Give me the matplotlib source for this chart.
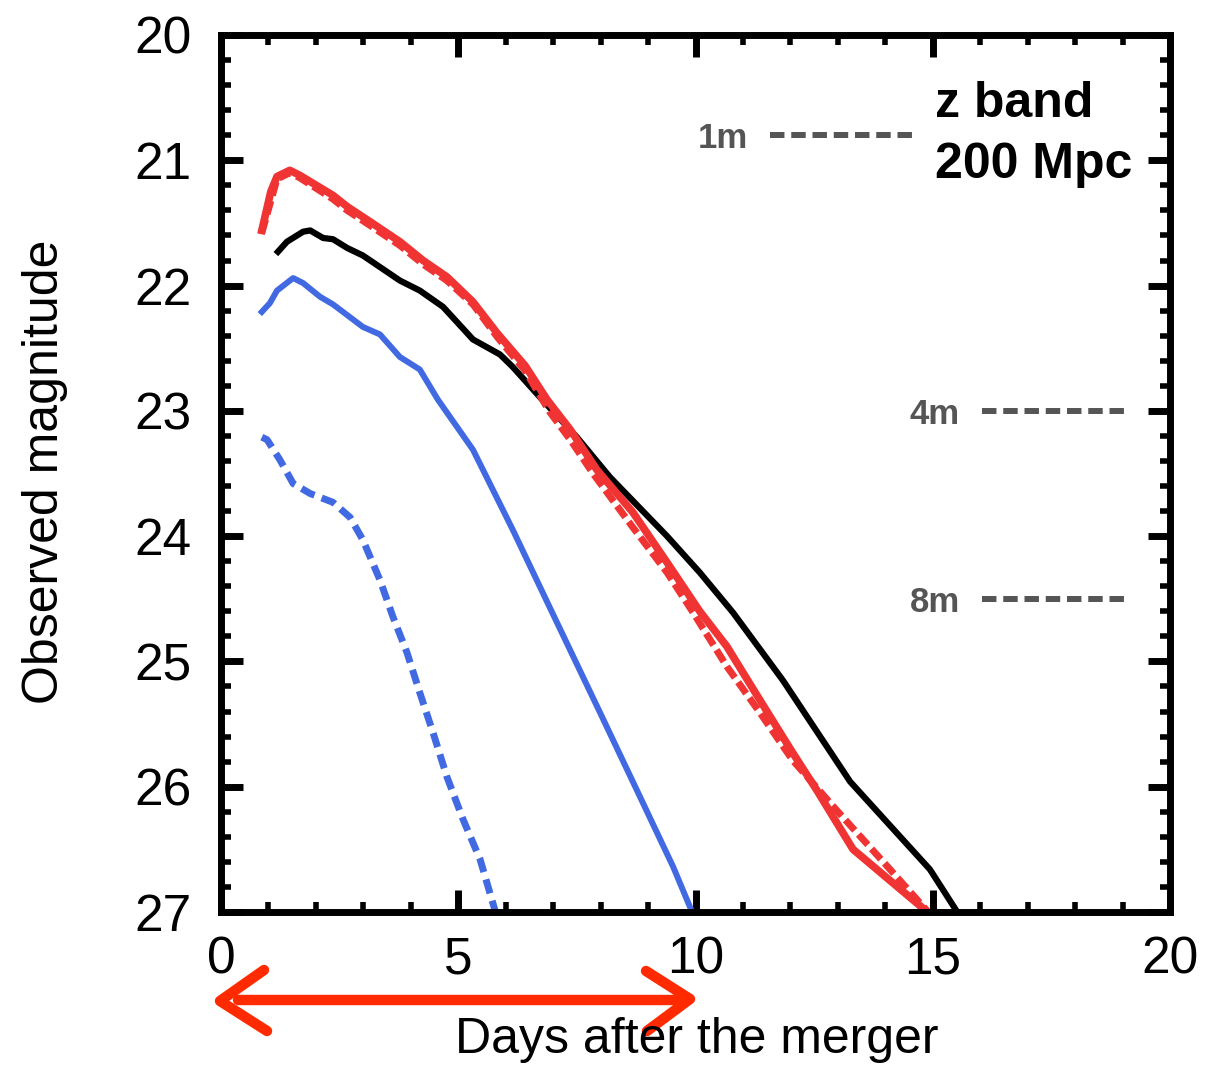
import matplotlib
matplotlib.use("Agg")
import matplotlib.pyplot as plt
from matplotlib.ticker import MultipleLocator
from matplotlib.lines import Line2D

plt.rcParams["font.family"] = ["Liberation Sans", "DejaVu Sans"]
plt.rcParams["lines.scale_dashes"] = False

# ---- light curves (days after merger, observed z-band magnitude) ----
black_days = [1.20, 1.39, 1.73, 1.88, 2.15, 2.36, 2.66, 2.99, 3.77, 4.19, 4.68, 5.31,
              5.88, 6.15, 6.72, 7.50, 8.20, 9.40, 10.09, 10.79, 11.84, 13.26, 14.94, 15.55]
black_mag = [21.73, 21.65, 21.57, 21.56, 21.62, 21.63, 21.70, 21.76, 21.96, 22.04, 22.17, 22.43,
             22.55, 22.65, 22.89, 23.21, 23.53, 24.00, 24.29, 24.61, 25.15, 25.96, 26.66, 27.02]

red_days = [0.86, 1.05, 1.18, 1.45, 1.66, 2.36, 2.66, 3.18, 3.77, 4.26, 4.76, 5.31,
            5.82, 6.41, 6.87, 7.36, 7.92, 8.68, 9.40, 10.09, 10.66, 11.36, 12.05, 12.56,
            13.32, 14.95]
red_mag = [21.56, 21.25, 21.13, 21.08, 21.12, 21.28, 21.37, 21.50, 21.65, 21.80, 21.93, 22.13,
           22.38, 22.64, 22.91, 23.15, 23.47, 23.81, 24.21, 24.60, 24.88, 25.31, 25.73, 26.03,
           26.50, 27.02]

red_dash_days = [0.86, 1.18, 1.45, 1.66, 2.36, 2.66, 3.18, 3.77, 4.26, 4.76, 5.31, 5.82,
                 6.41, 6.93, 7.36, 7.84, 8.68, 9.40, 9.95, 10.66, 11.36, 12.05, 12.98,
                 14.10, 14.95]
red_dash_mag = [21.58, 21.15, 21.10, 21.14, 21.31, 21.40, 21.53, 21.68, 21.83, 21.96, 22.15, 22.41,
                22.68, 23.01, 23.23, 23.50, 23.93, 24.29, 24.61, 25.04, 25.41, 25.79, 26.19,
                26.66, 27.02]

blue_days = [0.86, 1.03, 1.18, 1.52, 1.73, 2.09, 2.36, 2.99, 3.35, 3.77, 4.19, 4.57,
             5.31, 6.15, 6.93, 7.99, 8.83, 9.53, 9.95]
blue_mag = [22.21, 22.14, 22.04, 21.94, 21.98, 22.09, 22.15, 22.33, 22.39, 22.57, 22.67, 22.91,
            23.31, 23.95, 24.57, 25.41, 26.08, 26.64, 27.02]

blue_dash_days = [0.86, 0.97, 1.24, 1.52, 1.88, 2.36, 2.72, 2.99, 3.35, 3.62, 3.92, 4.19,
                  4.47, 4.76, 5.10, 5.46, 5.80]
blue_dash_mag = [23.21, 23.23, 23.39, 23.58, 23.66, 23.73, 23.85, 24.03, 24.35, 24.64, 24.93, 25.25,
                 25.57, 25.92, 26.26, 26.58, 27.02]

# ---- telescope limiting magnitudes ----
telescopes = ["1m", "4m", "8m"]
limit_mag = [20.8, 23.0, 24.5]
limit_start = [11.57, 16.04, 16.04]
limit_end = [14.58, 19.03, 19.03]

xticks = [0, 5, 10, 15, 20]
yticks = [20, 21, 22, 23, 24, 25, 26, 27]

RED = "#f03434"
BLUE = "#4169e1"
GRAY = "#555555"

W, H = 1217, 1065
fig = plt.figure(figsize=(W / 100, H / 100), dpi=100)
ax = fig.add_axes([221 / W, 153 / H, 949 / W, 877 / H])

ax.plot(blue_dash_days, blue_dash_mag, color=BLUE, lw=5.0, dashes=(10.5, 5.5))
ax.plot(blue_days, blue_mag, color=BLUE, lw=4.3)
ax.plot(black_days, black_mag, color="black", lw=4.5)
ax.plot(red_days, red_mag, color=RED, lw=5.5)
ax.plot(red_dash_days, red_dash_mag, color=RED, lw=5.0, dashes=(10.0, 4.0))

for name, m, x0, x1 in zip(telescopes, limit_mag, limit_start, limit_end):
    ax.plot([x0, x1], [m, m], color=GRAY, lw=4.3, dashes=(10.4, 4.9))
    ax.text(x0 - 0.47, m, name, color=GRAY, fontsize=25, fontweight="bold",
            ha="right", va="center_baseline")

ax.text(0.752, 0.9065, "z band", transform=ax.transAxes, fontsize=36,
        fontweight="bold", ha="left", va="baseline")
ax.text(0.752, 0.8365, "200 Mpc", transform=ax.transAxes, fontsize=36,
        fontweight="bold", ha="left", va="baseline")

ax.set_xlim(0, 20)
ax.set_ylim(27, 20)
ax.set_xticks(xticks)
ax.set_yticks(yticks)
ax.xaxis.set_minor_locator(MultipleLocator(1))
ax.yaxis.set_minor_locator(MultipleLocator(0.2))
ax.tick_params(which="both", direction="in", top=True, right=True, labelsize=37)
ax.tick_params(which="major", length=15.5, width=5)
ax.tick_params(which="minor", length=7.5, width=4)
ax.tick_params(axis="x", which="major", pad=17)
ax.tick_params(axis="y", which="major", pad=21)
for sp in ax.spines.values():
    sp.set_linewidth(5)

fig.text(45 / W, 1 - 472 / H, "Observed magnitude", rotation=90, fontsize=36,
         ha="center", va="center")
fig.text(697 / W, 1 - 1053 / H, "Days after the merger", fontsize=36,
         ha="center", va="baseline")

# double-headed marker arrow under the axis
ARROW = "#ff2a00"
def fpx(px, py):
    return px / W, 1 - py / H

arrow_paths = [
    [(238, 1000), (680, 1000)],
    [(264, 970), (220, 1001), (267, 1031)],
    [(646, 971), (690, 999), (647, 1031)],
]
for path in arrow_paths:
    xs, ys = zip(*[fpx(*p) for p in path])
    fig.add_artist(Line2D(xs, ys, color=ARROW, lw=7.5, solid_capstyle="round",
                          solid_joinstyle="round"))

fig.savefig("out.png", dpi=100)
